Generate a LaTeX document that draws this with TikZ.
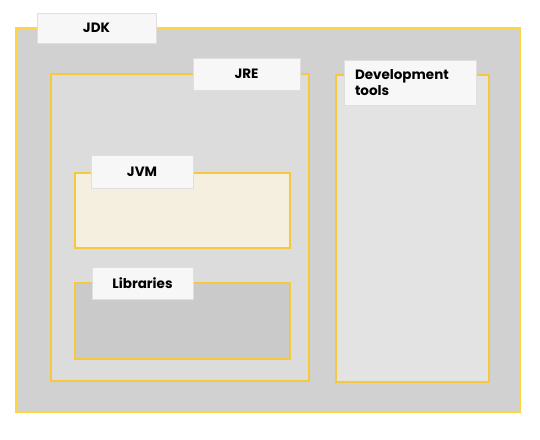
\documentclass[tikz,border=0pt]{standalone}
\usepackage{fontspec}
\setmainfont{Poppins}
\definecolor{rim}{HTML}{F5C93E}
\definecolor{tagfill}{HTML}{F7F7F7}
\definecolor{tagline}{HTML}{DFDFDF}
\begin{document}
\begin{tikzpicture}[x=1pt,y=-1pt]
\tikzstyle{area} = [draw=rim, line width=2pt, inner sep=0pt, anchor=north west]
\tikzstyle{tag} = [draw=tagline, fill=tagfill, line width=0.8pt, inner sep=0pt,
  font=\fontsize{13.5}{16}\selectfont\bfseries]
\useasboundingbox[fill=white] (0,0) rectangle (540,439);
% boxes
\node[area, fill={rgb,255:red,209;green,209;blue,209}, draw={rgb,255:red,255;green,213;blue,64},
  minimum width=504pt, minimum height=384pt] (jdk) at (15,27) {};
\node[area, fill={rgb,255:red,220;green,220;blue,220}, minimum width=258pt, minimum height=307pt] (jre) at (50,73) {};
\node[area, fill={rgb,255:red,227;green,227;blue,227}, minimum width=153pt, minimum height=307pt] (dev) at (335,74) {};
\node[area, fill={rgb,255:red,245;green,239;blue,224}, minimum width=215pt, minimum height=75pt] (jvm) at (74,172) {};
\node[area, fill={rgb,255:red,202;green,202;blue,202}, minimum width=215pt, minimum height=76pt] (lib) at (74,282) {};
% labels
\node[tag, minimum width=119pt, minimum height=30pt] (jdktag) at (96.5,28) {JDK};
\node[tag, minimum width=107pt, minimum height=32pt] (jretag) at (246.5,74) {JRE};
\node[tag, minimum width=132pt, minimum height=45pt, text width=110pt, align=left] (devtag) at (410,82.5) {Development\\tools};
\node[tag, minimum width=102pt, minimum height=33pt] (jvmtag) at (142,171.5) {JVM};
\node[tag, minimum width=101pt, minimum height=32pt] (libtag) at (142.5,283) {Libraries};
\end{tikzpicture}
\end{document}
